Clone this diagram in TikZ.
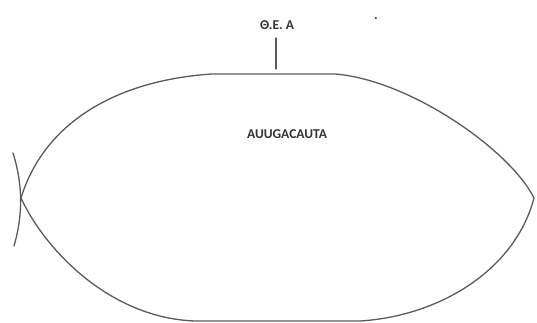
\documentclass[tikz,border=0pt]{standalone}
\usepackage{fontspec}
\setmainfont{Carlito}
\definecolor{linegray}{HTML}{5A5A5A}
\definecolor{textgray}{HTML}{333333}
\tikzset{
  outline/.style={draw=linegray, line width=1.3pt, line cap=round},
  lbl/.style={text=textgray, font=\fontsize{13.5}{15}\selectfont\bfseries, inner sep=0pt, anchor=center}
}
\begin{document}
\begin{tikzpicture}[x=1pt,y=-1pt]
\useasboundingbox (0,0) rectangle (537,323);
% main lens-shaped outline
\coordinate (L) at (21,198);
\coordinate (R) at (534,198);
\coordinate (TL) at (212,74);
\coordinate (TR) at (335,74);
\coordinate (BL) at (195,321);
\coordinate (BR) at (360,321);
\draw[outline] (L) .. controls (45,120) and (120,80) .. (TL) -- (TR)
  .. controls (410,80) and (510,150) .. (R)
  .. controls (515,270) and (440,316) .. (BR) -- (BL)
  .. controls (110,318) and (45,250) .. (L);
% crossing arc at left
\coordinate (A1) at (13,153);
\coordinate (A2) at (14,246);
\draw[outline] (A1) .. controls (23,185) and (23,215) .. (A2);
% tick and labels
\node[lbl] (tea) at (277,25) {Θ.Ε.\ Α};
\coordinate (T1) at (276,38);
\coordinate (T2) at (276,69);
\draw[outline] (T1) -- (T2);
\node[lbl] (dot) at (376,19) {.};
\node[lbl] (seq) at (287,134) {AUUGACAUTA};
\end{tikzpicture}
\end{document}
